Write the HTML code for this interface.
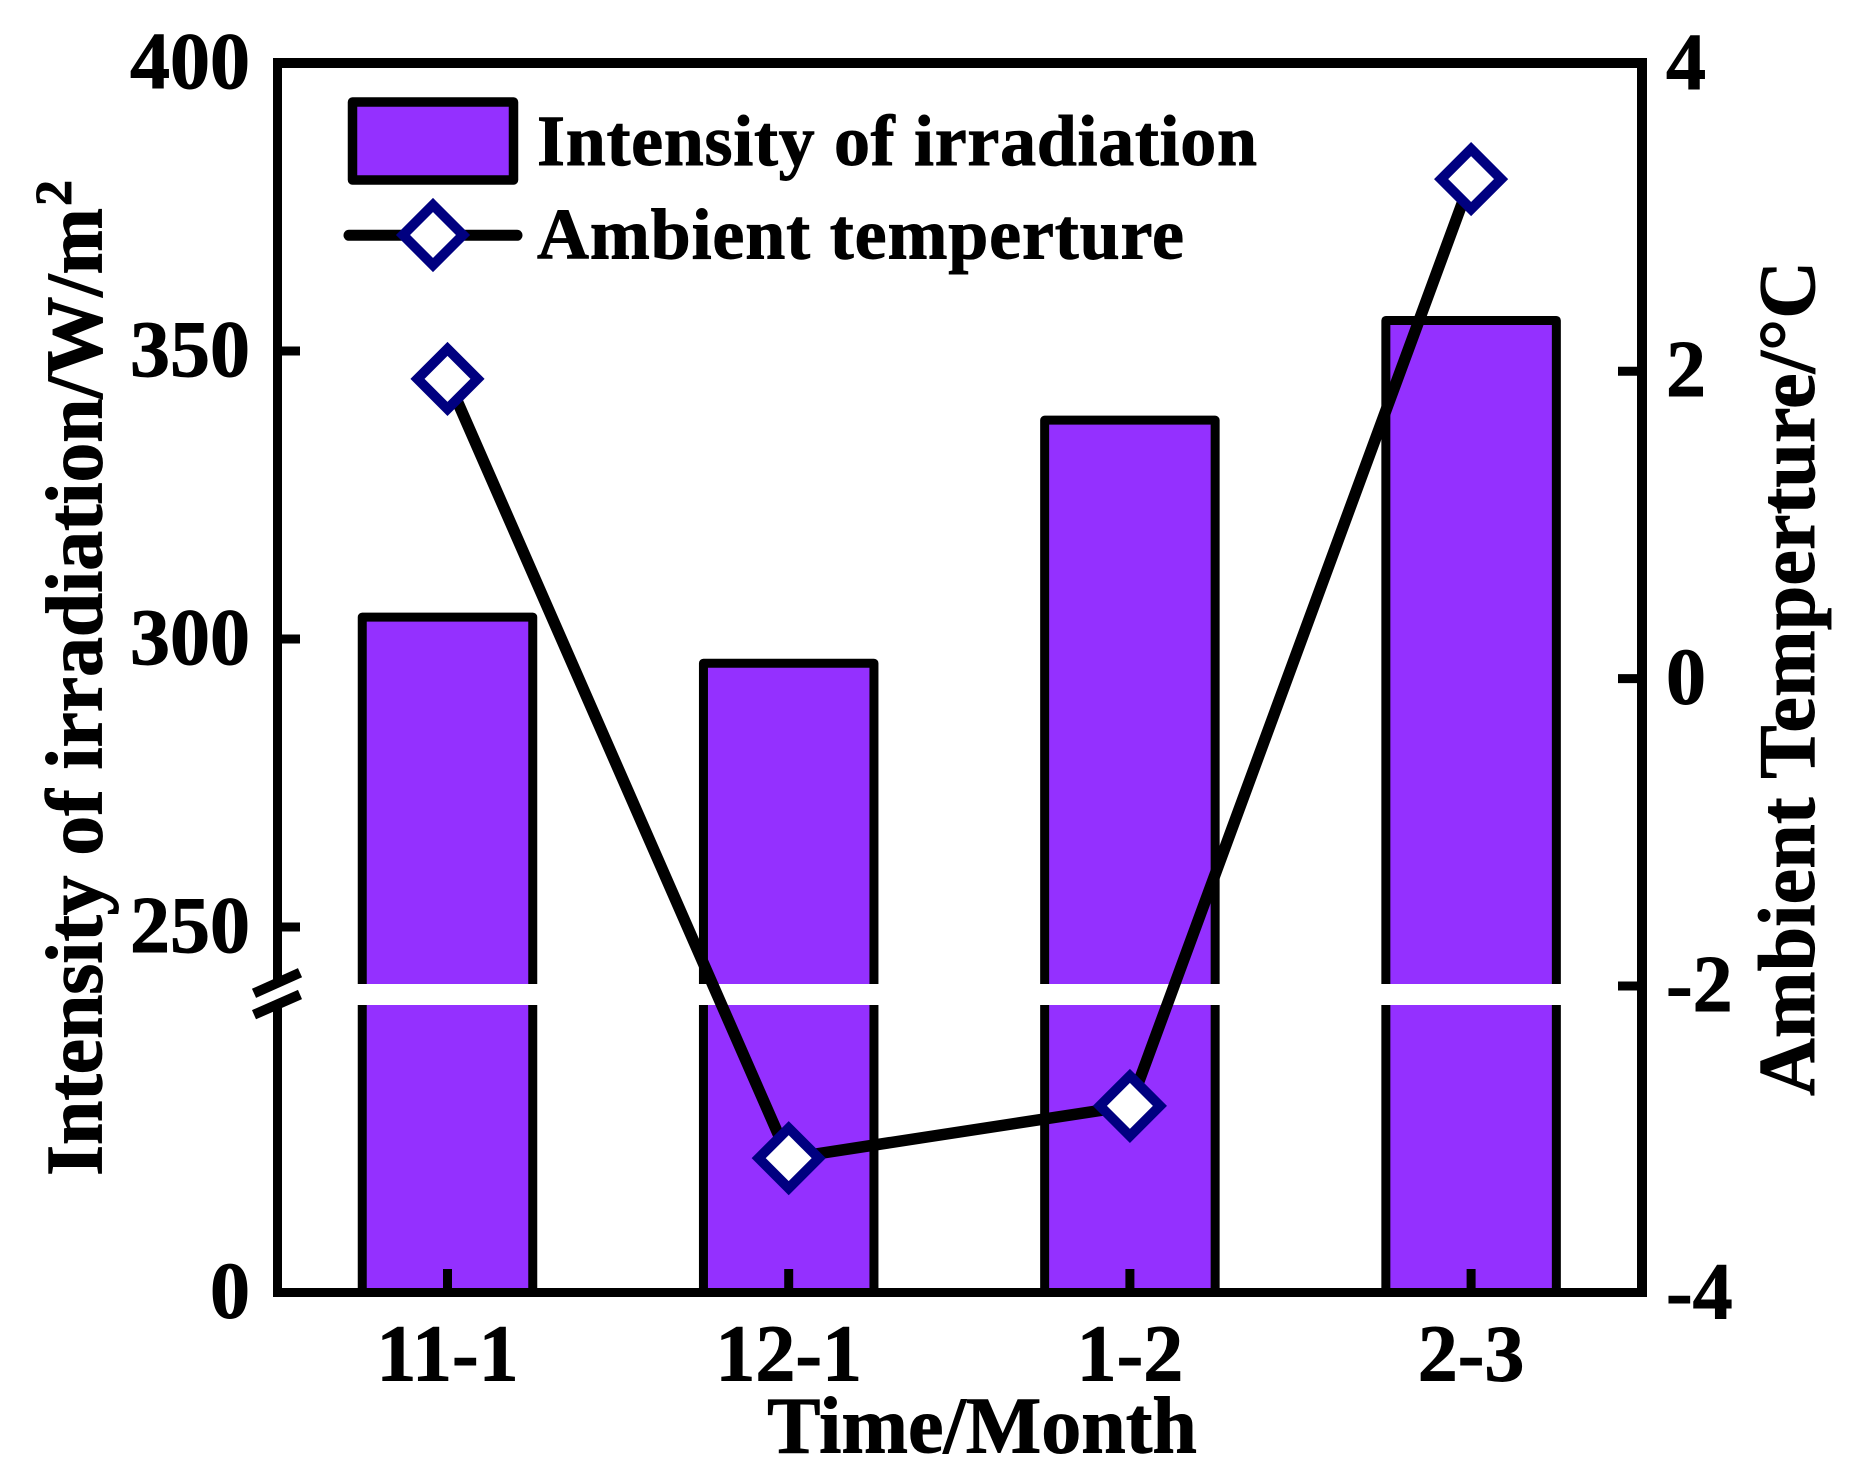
<!DOCTYPE html>
<html lang="en">
<head>
<meta charset="utf-8">
<title>Intensity of irradiation and ambient temperature</title>
<style>
html,body{margin:0;padding:0;background:#fff;}
svg{display:block;}
text{font-family:"Liberation Serif",serif;font-weight:bold;fill:#000;stroke:#000;stroke-width:0.9px;}
</style>
</head>
<body>
<svg id="chart" xmlns="http://www.w3.org/2000/svg" width="1854" height="1473" viewBox="0 0 1854 1473">
  <rect x="0" y="0" width="1854" height="1473" fill="#fff"/>
  <g id="bars"></g>
  <g id="xticks"></g>
  <g id="yticks"></g>
  <g id="rticks"></g>
  <polyline id="tempLine" fill="none" stroke="#000" stroke-width="11.5" stroke-linejoin="round"/>
  <g id="markers"></g>

  <g fill="#000">
    <rect x="273" y="58" width="1374" height="10"/>
    <rect x="273" y="1288" width="1374" height="9"/>
    <rect x="1637" y="58" width="10" height="1239"/>
    <rect x="273" y="58" width="9" height="926"/>
    <rect x="273" y="1005" width="9" height="292"/>
  </g>
  <g stroke="#000" stroke-width="10">
    <line x1="254" y1="993.3" x2="300" y2="972.7"/>
    <line x1="254" y1="1014.7" x2="300" y2="994.5"/>
  </g>

  <g>
    <rect x="352.5" y="102" width="161" height="78" fill="#9430ff" stroke="#000" stroke-width="9.5" stroke-linejoin="round"/>
    <text x="537" y="165" font-size="72" textLength="720" lengthAdjust="spacing">Intensity of irradiation</text>
    <line x1="349" y1="235.3" x2="517" y2="235.3" stroke="#000" stroke-width="11" stroke-linecap="round"/>
    <polygon points="433,205 463,235 433,265 403,235" fill="#fff" stroke="#000080" stroke-width="10"/>
    <text x="537" y="258.5" font-size="72" textLength="647" lengthAdjust="spacing">Ambient temperture</text>
  </g>

  <g id="xlabels"></g>
  <g id="ylabels"></g>
  <g id="rlabels"></g>

  <text x="982" y="1452.5" font-size="80" text-anchor="middle">Time/Month</text>
  <text transform="translate(101.5,1176) rotate(-90)" font-size="80" textLength="968" lengthAdjust="spacing">Intensity of irradiation/W/m</text>
  <text transform="translate(71,206) rotate(-90)" font-size="52">2</text>
  <text transform="translate(1814,1096) rotate(-90)" font-size="80" textLength="835" lengthAdjust="spacing">Ambient Temperture/°C</text>
</svg>
<script>
const categories = ['11-1', '12-1', '1-2', '2-3'];
const irradiation = [303.8, 295.8, 338, 355.3];
const temperature = [1.95, -3.12, -2.78, 3.25];
const leftTicks = [350, 300, 250];
const leftLabels = [400, 350, 300, 250, 0];
const rightTicks = [2, 0, -2];
const rightLabels = [4, 2, 0, -2, -4];

const NS = 'http://www.w3.org/2000/svg';
const barWidth = 170.5;
const breakValue = 240;
const breakTop = 984;
const breakBottom = 1005;
const axisBottom = 1292.5;

function xPos(i) { return 447.5 + i * 341.2; }
function yLeft(v) {
  if (v >= breakValue) return 63 + (400 - v) * 5.76;
  return breakBottom + (breakValue - v) / breakValue * (axisBottom - breakBottom);
}
function yRight(t) { return 678.6 - t * 153.7; }
function make(tag, attrs, parent, content) {
  const el = document.createElementNS(NS, tag);
  for (const k in attrs) el.setAttribute(k, attrs[k]);
  if (content !== undefined) el.textContent = content;
  parent.appendChild(el);
  return el;
}

const barsG = document.getElementById('bars');
const xticksG = document.getElementById('xticks');
const xlabelsG = document.getElementById('xlabels');
const markersG = document.getElementById('markers');
const yticksG = document.getElementById('yticks');
const ylabelsG = document.getElementById('ylabels');
const rticksG = document.getElementById('rticks');
const rlabelsG = document.getElementById('rlabels');

categories.forEach(function (cat, i) {
  const cx = xPos(i);
  const top = yLeft(irradiation[i]);
  const bar = make('rect', {x: cx - barWidth / 2, y: top, width: barWidth, height: axisBottom - top, fill: '#9430ff', stroke: '#000', 'stroke-width': 9, 'stroke-linejoin': 'round'}, barsG);
  
  
  const band = make('rect', {x: cx - barWidth / 2 - 8, y: breakTop, width: barWidth + 16, height: breakBottom - breakTop, fill: '#fff'}, barsG);
  
  
  const tick = make('line', {x1: cx, x2: cx, y1: 1269, y2: axisBottom, stroke: '#000', 'stroke-width': 9}, xticksG);
  
  
  const label = make('text', {x: cx, y: 1380.5, 'font-size': 80, 'text-anchor': 'middle'}, xlabelsG, cat);
  
  
});

document.getElementById('tempLine').setAttribute('points', temperature.map(function (t, i) {
  return xPos(i) + ',' + yRight(t);
}).join(' '));

temperature.forEach(function (t, i) {
  const cx = xPos(i);
  const cy = yRight(t);
  const r = 30;
  const pts = [[cx, cy - r], [cx + r, cy], [cx, cy + r], [cx - r, cy]].map(function (p) { return p.join(','); }).join(' ');
  const m = make('polygon', {points: pts, fill: '#fff', stroke: '#000080', 'stroke-width': 10}, markersG);
  
  
});

leftTicks.forEach(function (v) {
  const y = yLeft(v);
  const tick = make('line', {x1: 278, x2: 300, y1: y, y2: y, stroke: '#000', 'stroke-width': 9}, yticksG);
  
  
});

leftLabels.forEach(function (v) {
  const label = make('text', {x: 250, y: yLeft(v) + 25, 'font-size': 80, 'text-anchor': 'end'}, ylabelsG, String(v));
  
  
});

rightTicks.forEach(function (t) {
  const y = yRight(t);
  const tick = make('line', {x1: 1618, x2: 1642, y1: y, y2: y, stroke: '#000', 'stroke-width': 9}, rticksG);
  
  
});

rightLabels.forEach(function (t) {
  const label = make('text', {x: 1666, y: yRight(t) + 25, 'font-size': 80}, rlabelsG, String(t));
  
  
});
</script>
</body>
</html>
